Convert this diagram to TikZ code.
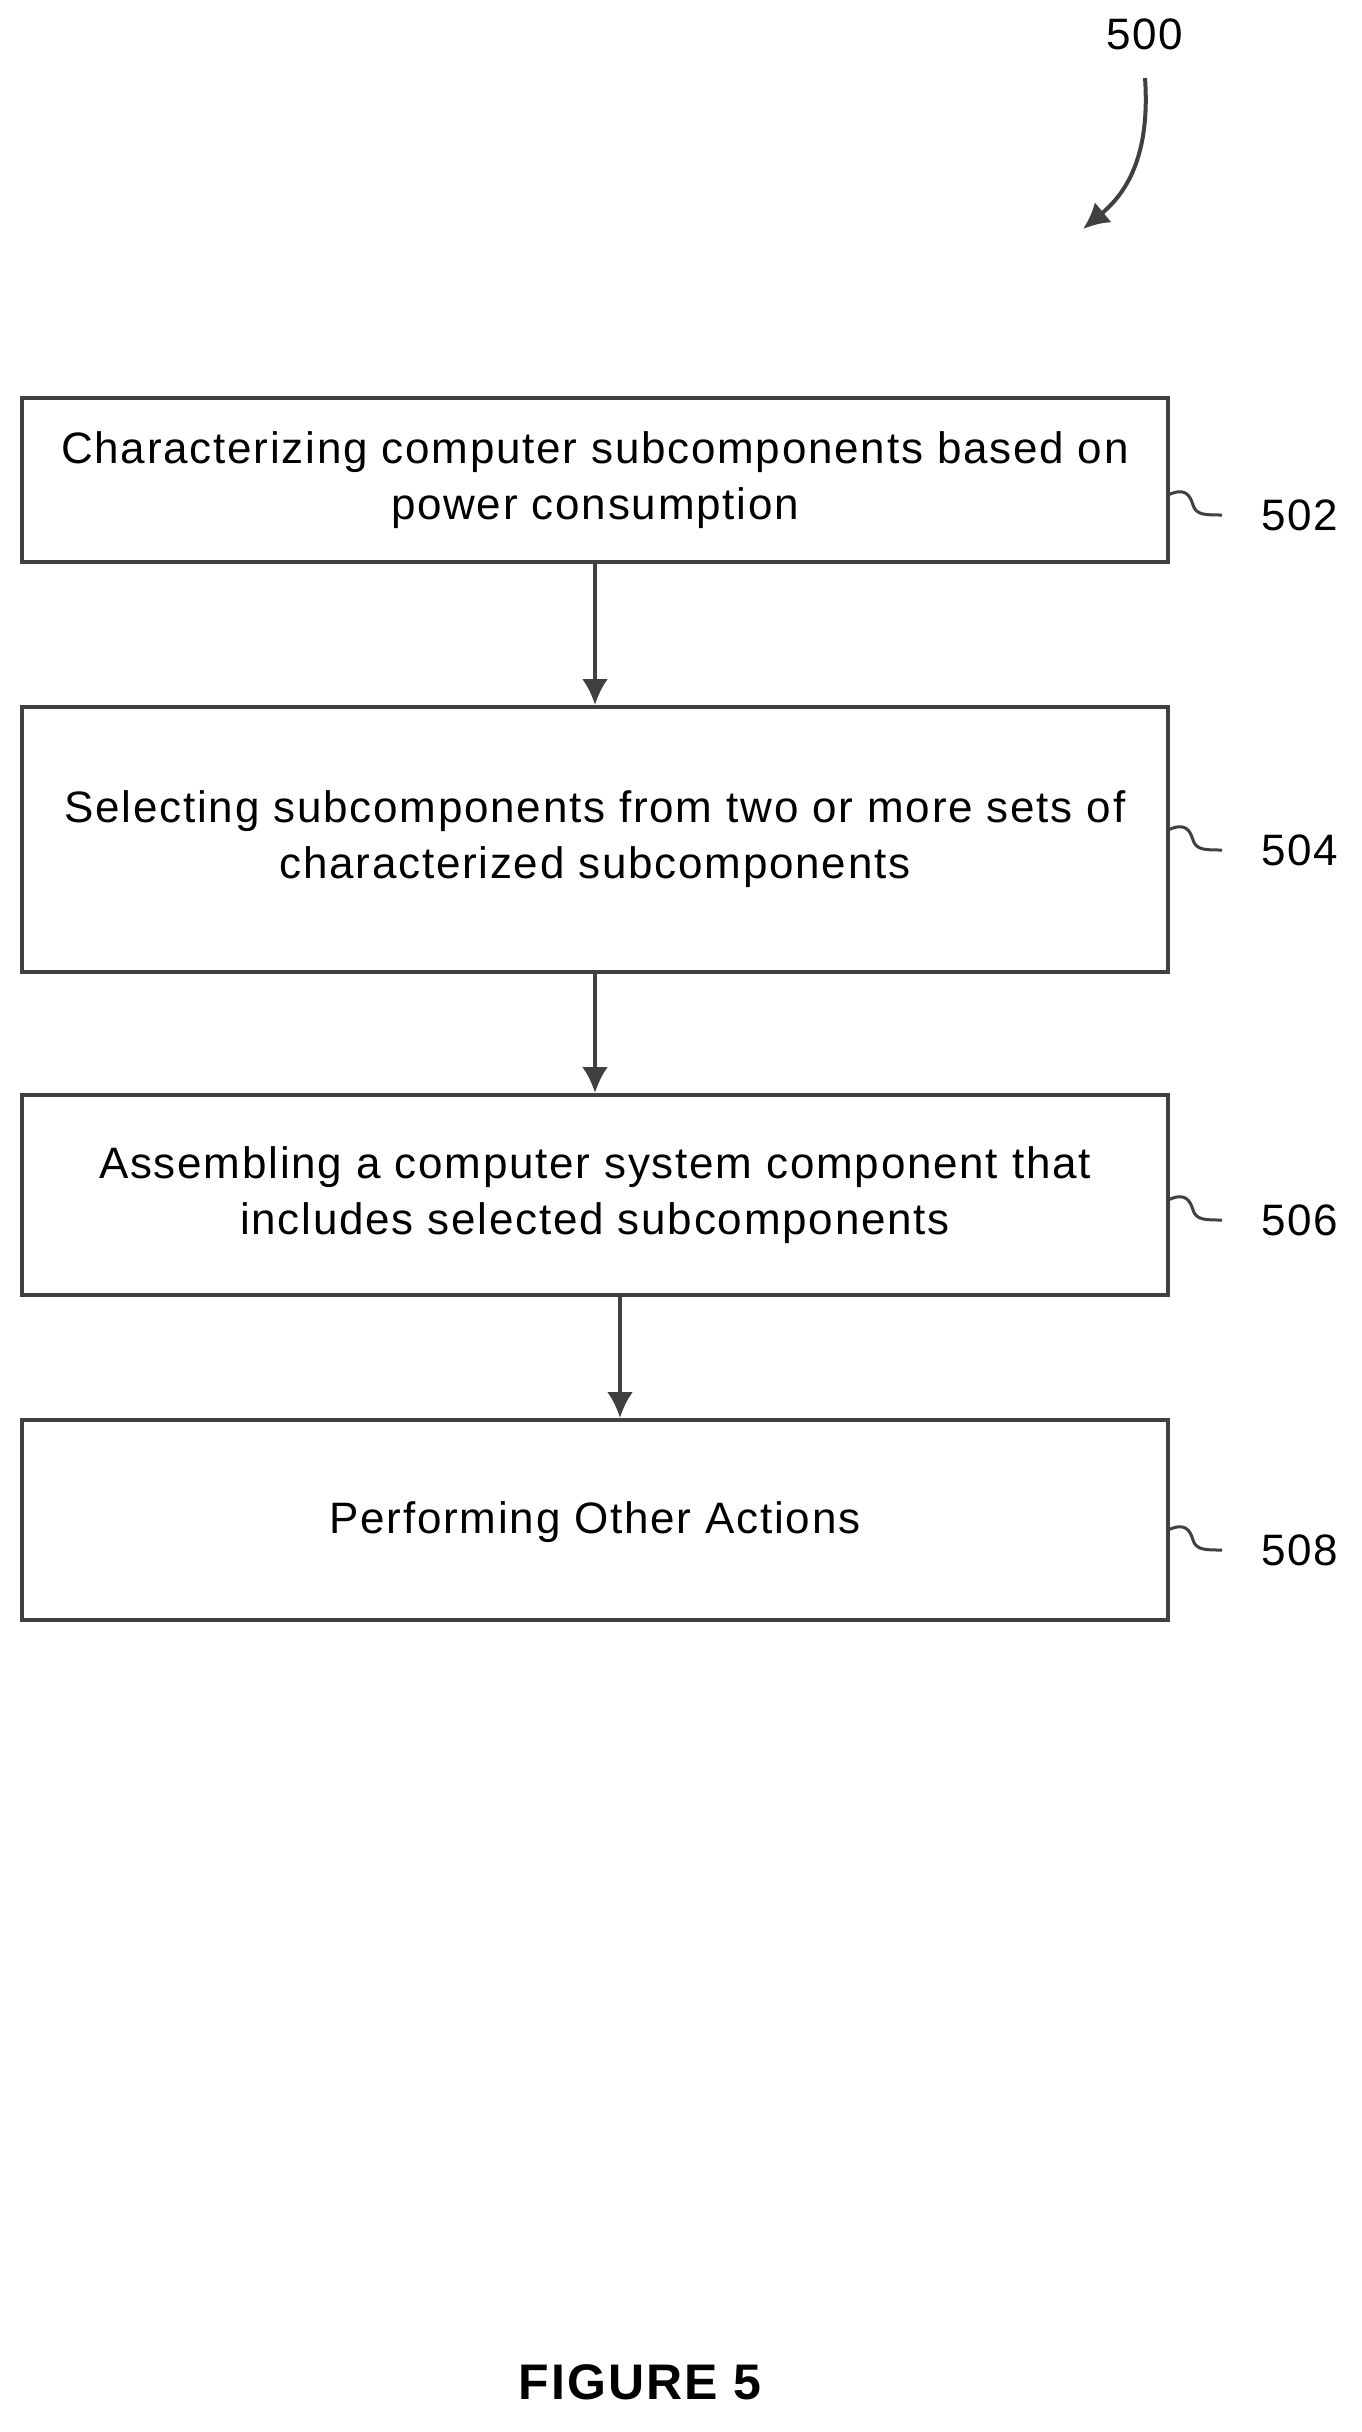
\documentclass[tikz,border=0pt]{standalone}
\usepackage{fontspec}
\setmainfont{Liberation Sans}[LetterSpace=4]
\usetikzlibrary{arrows.meta}

\begin{document}
\begin{tikzpicture}[x=1pt,y=-1pt,
  box/.style={draw=black!75, line width=4pt, align=center, inner sep=0pt},
  flow/.style={draw=black!75, line width=4pt, -{Latex[length=26pt,width=26pt]}},
  squig/.style={draw=black!75, line width=3pt},
  txt/.style={font=\fontsize{44}{56}\selectfont}]
  % page frame
  \useasboundingbox (0,0) rectangle (1361,2432);

  % boxes
  \node[box, minimum width=1146pt, minimum height=164pt] (s502) at (595,480) {};
  \node[txt, align=center] at (s502) {Characterizing computer subcomponents based on\\power consumption};
  \node[box, minimum width=1146pt, minimum height=265pt] (s504) at (595,839.5) {};
  \node[txt, align=center] at (s504) {Selecting subcomponents from two or more sets of\\characterized subcomponents};
  \node[box, minimum width=1146pt, minimum height=200pt] (s506) at (595,1195) {};
  \node[txt, align=center] at (s506) {Assembling a computer system component that\\includes selected subcomponents};
  \node[box, minimum width=1146pt, minimum height=200pt] (s508) at (595,1520) {};
  \node[txt] at (595,1522) {Performing Other Actions};

  % arrows
  \draw[flow] (s502.south) -- (s504.north);
  \draw[flow] (s504.south) -- (s506.north);
  \draw[flow] ([xshift=25pt]s506.south) -- ([xshift=25pt]s508.north);

  % reference labels
  \foreach \n/\y in {502/495, 504/830, 506/1200, 508/1530}{
    \node[txt, anchor=west] (l\n) at (1258,\y+20) {\n};
    \coordinate (e\n) at (1222,\y+20);
    \draw[squig] (1168,\y) .. controls (1185,\y-8) and (1190,\y) .. (1193,\y+10)
      .. controls (1196,\y+20) and (1205,\y+20) .. (e\n);
  }

  \node[txt] (n500) at (1145,34) {500};
  \draw[flow] (1145,78) .. controls (1150,150) and (1130,190) .. (1083,229);

  \node[font=\bfseries\fontsize{50}{60}\selectfont] (fig) at (640,2382) {FIGURE 5};
\end{tikzpicture}
\end{document}
